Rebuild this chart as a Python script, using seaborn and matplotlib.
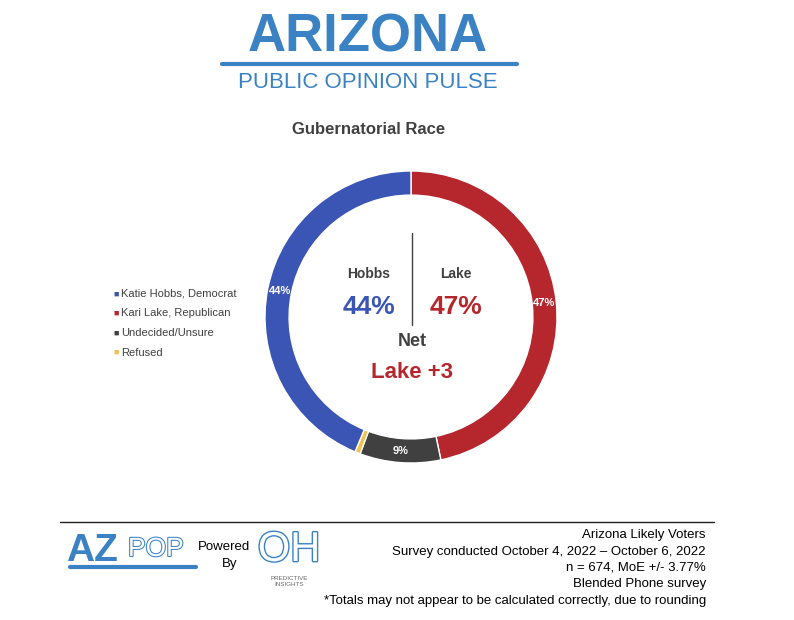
import matplotlib.pyplot as plt
import matplotlib.patheffects as pe
import numpy as np
import seaborn as sns

sns.set_theme(style="white")
plt.rcParams['font.family'] = ['Liberation Sans', 'DejaVu Sans']

# data (clockwise from top)
labels = ["Kari Lake, Republican", "Undecided/Unsure", "Refused", "Katie Hobbs, Democrat"]
values = [47, 9, 0.6, 44]
pct_text = ["47%", "9%", "", "44%"]
colors = ["#B5272D", "#404040", "#F2C14E", "#3A55B4"]
legend_order = ["Katie Hobbs, Democrat", "Kari Lake, Republican", "Undecided/Unsure", "Refused"]

W, H = 794, 620
fig = plt.figure(figsize=(W / 100, H / 100), dpi=100)

def fx(x): return x / W
def fy(y): return 1 - y / H

blue = "#3A82C4"
# header
fig.text(fx(368), fy(38), "ARIZONA", ha="center", va="center", fontsize=38, fontweight="bold", color=blue)
fig.add_artist(plt.Line2D([fx(222), fx(517)], [fy(64), fy(64)], color=blue, lw=3))
fig.text(fx(368), fy(82), "PUBLIC OPINION PULSE", ha="center", va="center", fontsize=16, color=blue)
fig.text(fx(369), fy(130), "Gubernatorial Race", ha="center", va="center", fontsize=12, fontweight="bold", color="#404040")

# donut
cx, cy, r = 411, 317, 146
ax = fig.add_axes([fx(cx - r), fy(cy + r), 2 * r / W, 2 * r / H])
wedges, _ = ax.pie(values, colors=colors, startangle=90, counterclock=False,
                   wedgeprops=dict(width=0.165, edgecolor="white", linewidth=1))
for w, t in zip(wedges, pct_text):
    if not t:
        continue
    ang = np.deg2rad((w.theta1 + w.theta2) / 2)
    ax.text(0.917 * np.cos(ang), 0.917 * np.sin(ang), t, ha="center", va="center",
            color="white", fontsize=8, fontweight="bold")
ax.set_aspect("equal")
ax.set_xlim(-1, 1)
ax.set_ylim(-1, 1)
ax.axis("off")

# center text
fig.text(fx(369), fy(274), "Hobbs", ha="center", va="center", fontsize=10, fontweight="bold", color="#404040")
fig.text(fx(456), fy(274), "Lake", ha="center", va="center", fontsize=10, fontweight="bold", color="#404040")
fig.text(fx(369), fy(307), "44%", ha="center", va="center", fontsize=19, fontweight="bold", color=colors[3])
fig.text(fx(456), fy(307), "47%", ha="center", va="center", fontsize=19, fontweight="bold", color=colors[0])
fig.add_artist(plt.Line2D([fx(412), fx(412)], [fy(233), fy(325)], color="#404040", lw=1))
fig.text(fx(412), fy(342), "Net", ha="center", va="center", fontsize=13, fontweight="bold", color="#404040")
fig.text(fx(412), fy(372), "Lake +3", ha="center", va="center", fontsize=16, fontweight="bold", color=colors[0])

# legend
cmap = dict(zip(labels, colors))
for i, lab in enumerate(legend_order):
    y = 294 + i * 19.5
    fig.text(fx(113), fy(y), "■", ha="left", va="center", fontsize=6.5, color=cmap[lab])
    fig.text(fx(121), fy(y), lab, ha="left", va="center", fontsize=8, color="#404040")

# footer
fig.add_artist(plt.Line2D([fx(60), fx(714)], [fy(522), fy(522)], color="#222222", lw=1))
fig.text(fx(66), fy(551), "AZ", ha="left", va="center", fontsize=28, fontweight="bold", color=blue)
fig.text(fx(128), fy(549), "POP", ha="left", va="center", fontsize=19, color="white",
         path_effects=[pe.withStroke(linewidth=1.5, foreground=blue)])
fig.add_artist(plt.Line2D([fx(70), fx(196)], [fy(567), fy(567)], color=blue, lw=3))
fig.text(fx(224), fy(547), "Powered", ha="center", va="center", fontsize=9.5, color="black")
fig.text(fx(230), fy(564), "By", ha="center", va="center", fontsize=9.5, color="black")
fig.text(fx(289), fy(550), "OH", ha="center", va="center", fontsize=30, color="white",
         path_effects=[pe.withStroke(linewidth=2, foreground=blue)])
fig.text(fx(289), fy(578), "PREDICTIVE", ha="center", va="center", fontsize=4.5, color="#666666")
fig.text(fx(289), fy(585), "INSIGHTS", ha="center", va="center", fontsize=4.5, color="#666666")
foot = ["Arizona Likely Voters", "Survey conducted October 4, 2022 \u2013 October 6, 2022",
        "n = 674, MoE +/- 3.77%", "Blended Phone survey",
        "*Totals may not appear to be calculated correctly, due to rounding"]
for i, t in enumerate(foot):
    fig.text(fx(706), fy(535 + i * 16.5), t, ha="right", va="center", fontsize=9.5, color="black")

fig.savefig("out.png", dpi=100)
